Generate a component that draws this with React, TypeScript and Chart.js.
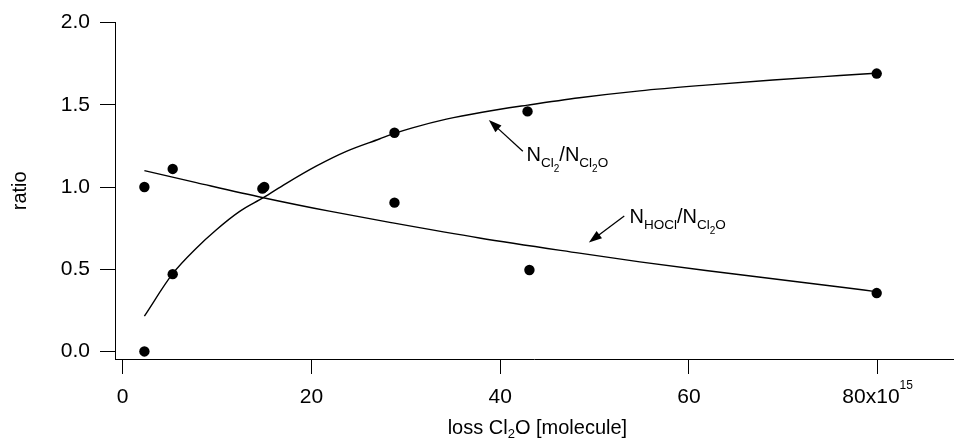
import { useEffect, useRef } from 'react';
import { Chart, registerables } from 'chart.js';

Chart.register(...registerables);

const FONT = "'Liberation Sans', Arial, Helvetica, sans-serif";

// measured points (loss Cl2O in 1e15 molecules)
const cl2Loss = [2.3, 5.3, 15.0, 28.8, 42.9, 79.9];
const cl2Ratio = [0.0, 0.47, 1.0, 1.33, 1.46, 1.69];
const hoclLoss = [2.3, 5.3, 14.8, 28.8, 43.1, 79.9];
const hoclRatio = [1.0, 1.11, 0.99, 0.905, 0.495, 0.355];

// fitted curves
const cl2FitLoss = [2.3, 5.3, 7.8, 9.9, 12.4, 14.9, 17.3, 20.5, 23.7, 27.2, 28.8, 30.7, 34.3, 38.1, 42.9, 48.4, 54.8, 61.8, 68.9, 76.0, 79.8];
const cl2FitRatio = [0.215, 0.473, 0.628, 0.739, 0.852, 0.935, 1.021, 1.127, 1.217, 1.292, 1.326, 1.36, 1.413, 1.455, 1.498, 1.543, 1.585, 1.62, 1.651, 1.678, 1.692];
const hoclFitLoss = [2.3, 7.8, 14.9, 21.9, 28.3, 37.8, 48.4, 54.8, 61.8, 68.9, 76.0, 79.8];
const hoclFitRatio = [1.10, 1.027, 0.935, 0.853, 0.785, 0.69, 0.598, 0.545, 0.492, 0.442, 0.392, 0.364];

const xTicks = [0, 20, 40, 60, 80];
const yTicks = [0, 0.5, 1.0, 1.5, 2.0];

const zip = (xs: number[], ys: number[]) => xs.map((x, i) => ({ x, y: ys[i] }));

type Seg = { t: string; s: number; dy: number };

function drawRich(ctx: CanvasRenderingContext2D, x: number, y: number, segs: Seg[], align: 'left' | 'center') {
  let total = 0;
  for (const sg of segs) {
    ctx.font = `${sg.s}px ${FONT}`;
    total += ctx.measureText(sg.t).width;
  }
  let cx = align === 'center' ? x - total / 2 : x;
  ctx.textAlign = 'left';
  for (const sg of segs) {
    ctx.font = `${sg.s}px ${FONT}`;
    ctx.fillText(sg.t, cx, y + sg.dy);
    cx += ctx.measureText(sg.t).width;
  }
}

function drawArrow(ctx: CanvasRenderingContext2D, x1: number, y1: number, x2: number, y2: number) {
  const ang = Math.atan2(y2 - y1, x2 - x1);
  const hl = 13;
  const hw = 4.5;
  ctx.beginPath();
  ctx.moveTo(x1, y1);
  ctx.lineTo(x2 - Math.cos(ang) * hl * 0.8, y2 - Math.sin(ang) * hl * 0.8);
  ctx.lineWidth = 1.3;
  ctx.strokeStyle = '#000';
  ctx.stroke();
  ctx.beginPath();
  ctx.moveTo(x2, y2);
  ctx.lineTo(x2 - Math.cos(ang) * hl - Math.sin(ang) * hw, y2 - Math.sin(ang) * hl + Math.cos(ang) * hw);
  ctx.lineTo(x2 - Math.cos(ang) * hl + Math.sin(ang) * hw, y2 - Math.sin(ang) * hl - Math.cos(ang) * hw);
  ctx.closePath();
  ctx.fillStyle = '#000';
  ctx.fill();
}

const annotPlugin = {
  id: 'annot',
  afterDraw(chart: any) {
    const ctx: CanvasRenderingContext2D = chart.ctx;
    const xs = chart.scales.x;
    const ys = chart.scales.y;
    ctx.save();
    ctx.fillStyle = '#000';

    // last x tick label with exponent
    const px80 = xs.getPixelForValue(80);
    ctx.textBaseline = 'middle';
    const midY = xs.top + 15 + 11 + 12.6;
    ctx.font = `21px ${FONT}`;
    const w1 = ctx.measureText('80x10').width;
    ctx.font = `12px ${FONT}`;
    const w2 = ctx.measureText('15').width;
    const start = px80 - (w1 + w2) / 2;
    ctx.textAlign = 'left';
    ctx.font = `21px ${FONT}`;
    ctx.fillText('80x10', start, midY);
    ctx.font = `12px ${FONT}`;
    ctx.fillText('15', start + w1, midY - 12);

    // x axis title
    ctx.textBaseline = 'alphabetic';
    const cxTitle = (chart.chartArea.left + chart.chartArea.right) / 2;
    drawRich(ctx, cxTitle + 3, chart.height - 4, [
      { t: 'loss Cl', s: 20, dy: 0 },
      { t: '2', s: 13, dy: 4 },
      { t: 'O [molecule]', s: 20, dy: 0 },
    ], 'center');

    // annotation 1: N_Cl2 / N_Cl2O
    drawArrow(ctx, xs.getPixelForValue(42.4), ys.getPixelForValue(1.217), xs.getPixelForValue(38.8), ys.getPixelForValue(1.407));
    drawRich(ctx, xs.getPixelForValue(42.8), ys.getPixelForValue(1.156), [
      { t: 'N', s: 20, dy: 0 },
      { t: 'Cl', s: 13.5, dy: 6 },
      { t: '2', s: 10, dy: 11 },
      { t: '/N', s: 20, dy: 0 },
      { t: 'Cl', s: 13.5, dy: 6 },
      { t: '2', s: 10, dy: 11 },
      { t: 'O', s: 13.5, dy: 6 },
    ], 'left');

    // annotation 2: N_HOCl / N_Cl2O
    drawArrow(ctx, xs.getPixelForValue(53.15), ys.getPixelForValue(0.824), xs.getPixelForValue(49.4), ys.getPixelForValue(0.663));
    drawRich(ctx, xs.getPixelForValue(53.7), ys.getPixelForValue(0.784), [
      { t: 'N', s: 20, dy: 0 },
      { t: 'HOCl', s: 13.5, dy: 6 },
      { t: '/N', s: 20, dy: 0 },
      { t: 'Cl', s: 13.5, dy: 6 },
      { t: '2', s: 10, dy: 11 },
      { t: 'O', s: 13.5, dy: 6 },
    ], 'left');
    ctx.restore();
  },
};

export default function App() {
  const ref = useRef<HTMLCanvasElement | null>(null);
  useEffect(() => {
    document.body.style.margin = '0';
    if (!ref.current) return;
    const chart = new Chart(ref.current, {
      type: 'scatter',
      data: {
        datasets: [
          {
            label: 'Cl2 fit',
            data: zip(cl2FitLoss, cl2FitRatio),
            showLine: true,
            borderColor: '#000',
            borderWidth: 1.4,
            pointRadius: 0,
            cubicInterpolationMode: 'monotone',
          },
          {
            label: 'HOCl fit',
            data: zip(hoclFitLoss, hoclFitRatio),
            showLine: true,
            borderColor: '#000',
            borderWidth: 1.4,
            pointRadius: 0,
            cubicInterpolationMode: 'monotone',
          },
          {
            label: 'Cl2/Cl2O',
            data: zip(cl2Loss, cl2Ratio),
            showLine: false,
            pointRadius: 5.2,
            pointBackgroundColor: '#000',
            pointBorderWidth: 0,
          },
          {
            label: 'HOCl/Cl2O',
            data: zip(hoclLoss, hoclRatio),
            showLine: false,
            pointRadius: 5.2,
            pointBackgroundColor: '#000',
            pointBorderWidth: 0,
          },
        ],
      } as any,
      options: {
        animation: false,
        responsive: false,
        devicePixelRatio: 1,
        layout: { padding: { top: 20, right: 4, left: 0, bottom: 0 } },
        plugins: { legend: { display: false }, tooltip: { enabled: false } },
        scales: {
          x: {
            type: 'linear',
            min: -0.815,
            max: 88.07,
            afterBuildTicks: (s: any) => { s.ticks = xTicks.map((v) => ({ value: v })); },
            afterFit: (s: any) => { s.height = 79; },
            grid: { display: true, drawOnChartArea: false, drawTicks: true, tickLength: 15, tickColor: '#000', tickWidth: 1 },
            border: { display: true, color: '#000', width: 1 },
            ticks: {
              color: '#000',
              font: { family: FONT, size: 21 },
              padding: 11,
              maxRotation: 0,
              autoSkip: false,
              callback: (v: any) => (v === 80 ? '' : String(v)),
            },
          },
          y: {
            type: 'linear',
            min: -0.046,
            max: 2.0,
            afterBuildTicks: (s: any) => { s.ticks = yTicks.map((v) => ({ value: v })); },
            afterFit: (s: any) => { s.width = 115; },
            grid: { display: true, drawOnChartArea: false, drawTicks: true, tickLength: 15, tickColor: '#000', tickWidth: 1 },
            border: { display: true, color: '#000', width: 1 },
            title: { display: true, text: 'ratio', color: '#000', font: { family: FONT, size: 20 }, padding: { top: 8, bottom: 0 } },
            ticks: {
              color: '#000',
              font: { family: FONT, size: 21 },
              padding: 10,
              autoSkip: false,
              callback: (v: any) => Number(v).toFixed(1),
            },
          },
        },
      } as any,
      plugins: [annotPlugin],
    });
    return () => chart.destroy();
  }, []);
  return (
    <div style={{ width: 959, height: 438 }}>
      <canvas ref={ref} width={959} height={438} style={{ display: 'block', width: 959, height: 438 }} />
    </div>
  );
}
